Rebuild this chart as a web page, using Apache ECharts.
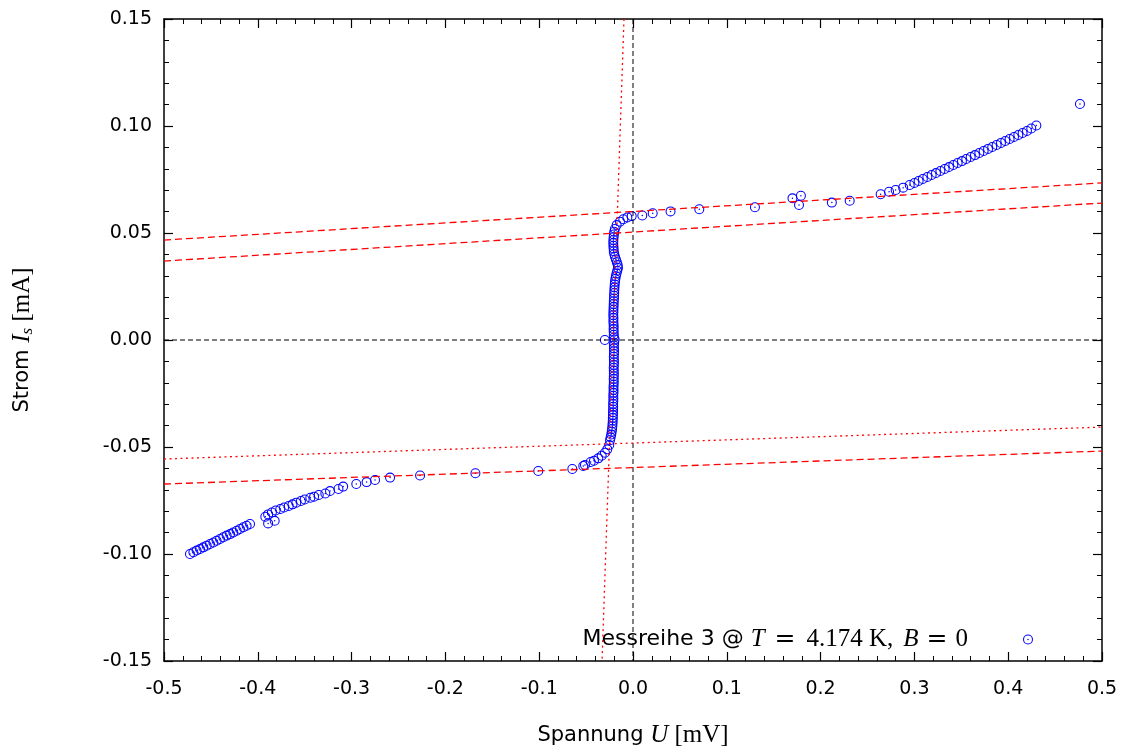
<!DOCTYPE html>
<html>
<head>
<meta charset="utf-8">
<script src="https://cdn.jsdelivr.net/npm/echarts@6/dist/echarts.min.js"></script>
<style>html,body{margin:0;padding:0;background:#fff}#c{width:1126px;height:751px}</style>
</head>
<body>
<div id="c"></div>
<script>
// ---- data (U in mV, I in mA) ----
const leftTail = [[-0.4723,-0.1000],[-0.4687,-0.0992],[-0.4652,-0.0984],[-0.4616,-0.0977],[-0.4581,-0.0969],[-0.4545,-0.0961],[-0.4510,-0.0953],[-0.4474,-0.0946],[-0.4439,-0.0938],[-0.4403,-0.0930],[-0.4368,-0.0922],[-0.4332,-0.0914],[-0.4296,-0.0907],[-0.4261,-0.0899],[-0.4225,-0.0891],[-0.4190,-0.0883],[-0.4154,-0.0875],[-0.4119,-0.0868],[-0.4083,-0.0860]];
const leftBranch = [[-0.392,-0.0826],[-0.389,-0.0857],[-0.382,-0.0845],[-0.389,-0.0815],[-0.385,-0.0806],[-0.381,-0.0797],[-0.376,-0.0790],[-0.372,-0.0783],[-0.367,-0.0776],[-0.363,-0.0768],[-0.359,-0.0760],[-0.354,-0.0752],[-0.350,-0.0745],[-0.344,-0.0737],[-0.340,-0.0732],[-0.335,-0.0724],[-0.328,-0.0717],[-0.323,-0.0706],[-0.314,-0.0696],[-0.309,-0.0685],[-0.295,-0.0673],[-0.284,-0.0664],[-0.275,-0.0654],[-0.259,-0.0643],[-0.227,-0.0633],[-0.168,-0.0623],[-0.101,-0.0612],[-0.0647,-0.0603],[-0.0530,-0.0589],[-0.0512,-0.0584],[-0.0451,-0.0570],[-0.0416,-0.0564],[-0.0370,-0.0553],[-0.0334,-0.0541],[-0.0299,-0.0527],[-0.0274,-0.0511],[-0.0253,-0.0491]];
const column = [[-0.0245,-0.0468],[-0.0238,-0.0455],[-0.0232,-0.0442],[-0.0227,-0.0429],[-0.0223,-0.0416],[-0.0220,-0.0403],[-0.0218,-0.0390],[-0.0216,-0.0377],[-0.0215,-0.0364],[-0.0214,-0.0351],[-0.0213,-0.0338],[-0.0212,-0.0325],[-0.0211,-0.0312],[-0.0212,-0.0299],[-0.0210,-0.0286],[-0.0209,-0.0273],[-0.0210,-0.0260],[-0.0208,-0.0247],[-0.0207,-0.0234],[-0.0208,-0.0221],[-0.0206,-0.0208],[-0.0205,-0.0195],[-0.0206,-0.0182],[-0.0205,-0.0169],[-0.0204,-0.0156],[-0.0205,-0.0143],[-0.0206,-0.0130],[-0.0204,-0.0117],[-0.0203,-0.0104],[-0.0204,-0.0091],[-0.0205,-0.0078],[-0.0203,-0.0065],[-0.0202,-0.0052],[-0.0203,-0.0039],[-0.0204,-0.0026],[-0.0201,-0.0013],[-0.0300,0.0000],[-0.0195,0.0002],[-0.0203,0.0012],[-0.0205,0.0025],[-0.0206,0.0038],[-0.0207,0.0051],[-0.0206,0.0064],[-0.0208,0.0077],[-0.0209,0.0090],[-0.0208,0.0103],[-0.0210,0.0116],[-0.0209,0.0129],[-0.0208,0.0142],[-0.0207,0.0155],[-0.0206,0.0168],[-0.0205,0.0181],[-0.0203,0.0194],[-0.0202,0.0207],[-0.0200,0.0220],[-0.0199,0.0233],[-0.0197,0.0246],[-0.0195,0.0259],[-0.0192,0.0272],[-0.0188,0.0285],[-0.0183,0.0298],[-0.0176,0.0311],[-0.0168,0.0324],[-0.0160,0.0337],[-0.0163,0.0350],[-0.0172,0.0363],[-0.0182,0.0376],[-0.0192,0.0389],[-0.0200,0.0402],[-0.0205,0.0415],[-0.0207,0.0428],[-0.0209,0.0441],[-0.0210,0.0454],[-0.0209,0.0467],[-0.0207,0.0480],[-0.0204,0.0493],[-0.0200,0.0506],[-0.0193,0.0519]];
const rightBranch = [[-0.0174,0.0537],[-0.0139,0.0553],[-0.0103,0.0564],[-0.0060,0.0573],[-0.0014,0.0579],[0.0099,0.0582],[0.0210,0.0592],[0.0400,0.0601],[0.0707,0.0611],[0.130,0.0620],[0.170,0.0662],[0.179,0.0674],[0.177,0.0631],[0.212,0.0642],[0.231,0.0651],[0.264,0.0681],[0.273,0.0693],[0.280,0.0701],[0.288,0.0712]];
const rightTail = [[0.295,0.0724],[0.300,0.0734],[0.3045,0.0743],[0.309,0.0752],[0.3138,0.0762],[0.3184,0.0771],[0.323,0.0780],[0.3277,0.0790],[0.3323,0.0799],[0.3369,0.0808],[0.3415,0.0818],[0.3461,0.0827],[0.3507,0.0836],[0.3553,0.0846],[0.360,0.0855],[0.3646,0.0864],[0.3692,0.0874],[0.3738,0.0883],[0.3785,0.0893],[0.383,0.0902],[0.3877,0.0911],[0.3923,0.0921],[0.3969,0.0930],[0.4015,0.0939],[0.4062,0.0949],[0.4108,0.0958],[0.4154,0.0967],[0.420,0.0977],[0.4246,0.0988],[0.430,0.1002],[0.4765,0.1103]];

// fit lines (endpoints)
const fitUpperA = [[-0.5,0.0467],[0.5,0.0734]];
const fitUpperB = [[-0.5,0.0369],[0.5,0.0640]];
const fitLowerDotted = [[-0.5,-0.0556],[0.5,-0.0407]];
const fitLowerDashed = [[-0.5,-0.0673],[0.5,-0.0519]];
const fitSteep = [[-0.0096,0.15],[-0.0330,-0.15]];
const zeroV = [[0,0.15],[0,-0.15]];
const zeroH = [[-0.5,0],[0.5,0]];

const xTickLabels = ['-0.5','-0.4','-0.3','-0.2','-0.1','0.0','0.1','0.2','0.3','0.4','0.5'];
const yTickLabels = ['-0.15','-0.10','-0.05','0.00','0.05','0.10','0.15'];
const seriesName = 'Messreihe 3';

const pts = [].concat(leftTail, leftBranch, column, rightBranch, rightTail);
const ringDot = 'path://M0,-10A10,10 0 1,1 0,10A10,10 0 1,1 0,-10ZM0,-7.9A7.9,7.9 0 1,0 0,7.9A7.9,7.9 0 1,0 0,-7.9ZM0,-1.5A1.5,1.5 0 1,1 0,1.5A1.5,1.5 0 1,1 0,-1.5Z';

const sans = 'DejaVu Sans';
const serif = 'Liberation Serif';
const axisCommon = {
  type:'value',
  axisLine:{show:true,onZero:false,lineStyle:{color:'#000',width:1.5}},
  axisTick:{show:true,inside:true,length:9,lineStyle:{color:'#000',width:1.2}},
  minorTick:{show:true,splitNumber:5,length:5,lineStyle:{color:'#000',width:1}},
  splitLine:{show:false}
};
function lineSeries(data, color, dash, width){
  return {type:'line',data:data,showSymbol:false,symbol:'none',silent:true,z:4,
    lineStyle:{color:color,width:width||1.3,type:dash},animation:false};
}
const mathRich = {
  a:{fontFamily:sans,fontSize:21,color:'#000'},
  i:{fontFamily:serif,fontStyle:'italic',fontSize:25,color:'#000'},
  b:{fontFamily:serif,fontSize:25,color:'#000'},
  s:{fontFamily:serif,fontStyle:'italic',fontSize:17,color:'#000',padding:[10,0,0,0]}
};
const chart = echarts.init(document.getElementById('c'));
chart.setOption({
  animation:false,
  backgroundColor:'#fff',
  grid:{left:164,right:24,top:19,bottom:90,outerBoundsMode:'none',containLabel:false},
  xAxis:[
    Object.assign({},axisCommon,{min:-0.5,max:0.5,interval:0.1,position:'bottom',
      axisLabel:{color:'#000',fontFamily:sans,fontSize:19,margin:19,
        formatter:v=>xTickLabels[Math.round((v+0.5)/0.1)]},
      name:'{a|Spannung }{i|U}{b| [mV]}',nameLocation:'middle',nameGap:62,
      nameTextStyle:{rich:mathRich}}),
    Object.assign({},axisCommon,{min:-0.5,max:0.5,interval:0.1,position:'top',axisLabel:{show:false}})
  ],
  yAxis:[
    Object.assign({},axisCommon,{min:-0.15,max:0.15,interval:0.05,position:'left',
      axisLabel:{color:'#000',fontFamily:sans,fontSize:19,margin:12,
        formatter:v=>yTickLabels[Math.round((v+0.15)/0.05)]},
      name:'{a|Strom }{i|I}{s|s}{b| [mA]}',nameLocation:'middle',nameGap:128,nameRotate:90,
      nameTextStyle:{rich:mathRich}}),
    Object.assign({},axisCommon,{min:-0.15,max:0.15,interval:0.05,position:'right',axisLabel:{show:false}})
  ],
  legend:{
    data:[{name:seriesName,icon:ringDot}],
    right:88,top:622,align:'right',itemWidth:10,itemHeight:10,itemGap:0,
    formatter:()=> '{a|Messreihe 3 @ }{i|T}{e|=}{r|4.174 K,}{i2|B}{e2|=}{r|0}{g|}',
    textStyle:{rich:{
      a:{fontFamily:sans,fontSize:22,color:'#000'},
      i:{fontFamily:serif,fontStyle:'italic',fontSize:25,color:'#000'},
      i2:{fontFamily:serif,fontStyle:'italic',fontSize:25,color:'#000',padding:[0,0,0,10]},
      e:{fontFamily:'DejaVu Serif',fontSize:25,color:'#000',padding:[0,11,0,10]},
      e2:{fontFamily:'DejaVu Serif',fontSize:25,color:'#000',padding:[0,8,0,8]},
      r:{fontFamily:serif,fontSize:25,color:'#000'},
      g:{width:50}
    }}
  },
  series:[
    {name:seriesName,type:'scatter',data:pts,symbol:ringDot,symbolSize:10,z:3,
      itemStyle:{color:'#0000ff',opacity:1},animation:false},
    lineSeries(zeroV,'#000',[5,3],1),
    lineSeries(zeroH,'#000',[5,3],1),
    lineSeries(fitUpperA,'#ff0000',[7,4]),
    lineSeries(fitUpperB,'#ff0000',[7,4]),
    lineSeries(fitLowerDashed,'#ff0000',[7,4]),
    lineSeries(fitLowerDotted,'#ff0000',[2,3.5]),
    lineSeries(fitSteep,'#ff0000',[2,3.5])
  ]
});
</script>
</body>
</html>
